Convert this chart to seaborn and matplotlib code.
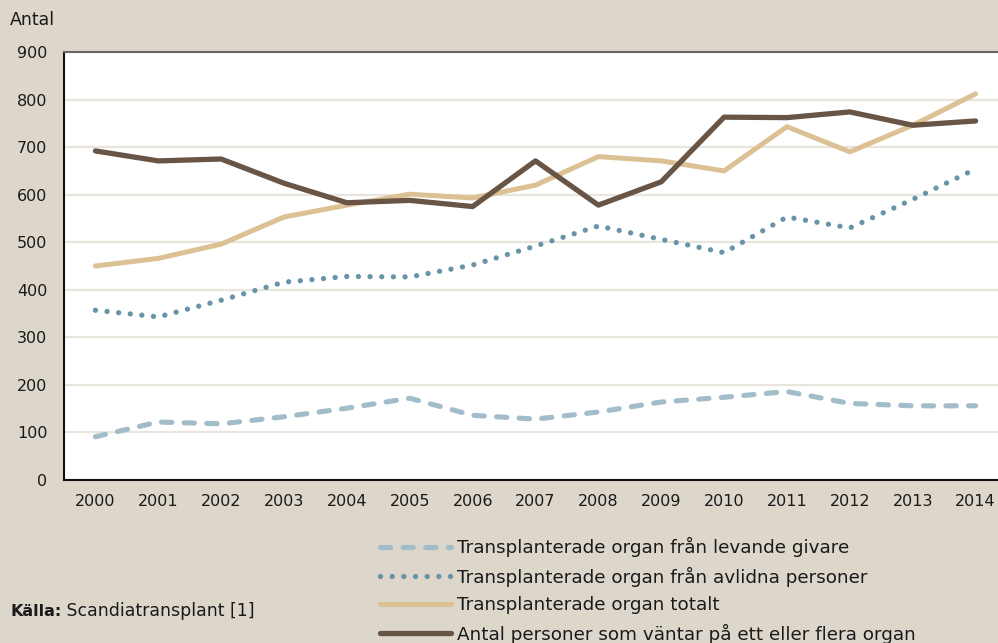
import matplotlib
matplotlib.use("Agg")
import matplotlib.pyplot as plt
import seaborn as sns
import pandas as pd
import numpy as np

years = ["2000", "2001", "2002", "2003", "2004", "2005", "2006", "2007",
         "2008", "2009", "2010", "2011", "2012", "2013", "2014"]
levande = [91, 122, 118, 133, 151, 172, 136, 128, 143, 164, 174, 186, 161, 156, 156]
avlidna = [357, 343, 378, 416, 428, 427, 452, 492, 534, 506, 478, 553, 530, 590, 654]
totalt = [450, 466, 496, 553, 578, 601, 593, 620, 680, 671, 650, 743, 690, 746, 812]
vantar = [692, 671, 675, 624, 583, 588, 575, 671, 578, 627, 763, 762, 774, 746, 755]

labels = ["Transplanterade organ från levande givare",
          "Transplanterade organ från avlidna personer",
          "Transplanterade organ totalt",
          "Antal personer som väntar på ett eller flera organ"]
colors = ["#a2bdc9", "#6894a8", "#dcc194", "#685546"]
yticks = [0, 100, 200, 300, 400, 500, 600, 700, 800, 900]

bg = "#ddd6cb"
sns.set_theme(style="white")
plt.rcParams["font.family"] = ["DejaVu Sans"]
plt.rcParams["text.color"] = "#1a1a1a"

fig = plt.figure(figsize=(9.98, 6.43), dpi=100, facecolor=bg)
W, H = 998, 643
x0, x1, ytop, ybot = 64, 1007, 52, 480
ax = fig.add_axes([x0 / W, 1 - ybot / H, (x1 - x0) / W, (ybot - ytop) / H])
ax.set_facecolor("white")

idx = np.arange(len(years))
series = [levande, avlidna, totalt, vantar]
df = pd.DataFrame({
    "x": np.tile(idx, 4),
    "y": np.concatenate(series),
    "serie": np.repeat(labels, len(years)),
})

sns.lineplot(data=df, x="x", y="y", hue="serie", hue_order=labels,
             palette=dict(zip(labels, colors)), ax=ax, legend=False,
             linewidth=3.6, sort=False)

lines = ax.lines[:4]
lw = [3.7, 3.8, 3.6, 3.8]
for ln, w in zip(lines, lw):
    ln.set_linewidth(w)
    ln.set_solid_capstyle("round")
    ln.set_dash_capstyle("round")
    ln.set_solid_joinstyle("round")
lines[0].set_dashes((2.0, 2.4))
lines[1].set_dashes((0.01, 2.2))
lines[2].set_zorder(3)
lines[3].set_zorder(4)

ax.set_xlim(-0.5, 14.5)
ax.set_ylim(0, 900)
ax.set_yticks(yticks)
ax.set_yticklabels([str(v) for v in yticks])
ax.set_xticks(idx)
ax.set_xticklabels(years)
ax.set_xticks(idx[:-1] + 0.5, minor=True)
ax.tick_params(axis="x", which="major", length=0, pad=10, labelsize=11.5,
               labelcolor="#1a1a1a")
ax.tick_params(axis="x", which="minor", length=6, width=1.2, direction="in",
               color="#333333")
ax.tick_params(axis="y", length=0, pad=12, labelsize=11.5, labelcolor="#1a1a1a")
ax.set_xlabel("")
ax.set_ylabel("")
ax.grid(False)
for v in yticks[1:-1]:
    ax.axhline(v, color="#e9e4dd", linewidth=1.6, zorder=0)

ax.spines["left"].set_color("#111111")
ax.spines["left"].set_linewidth(1.5)
ax.spines["bottom"].set_color("#111111")
ax.spines["bottom"].set_linewidth(1.5)
ax.spines["top"].set_color("#666666")
ax.spines["top"].set_linewidth(1.5)
ax.spines["right"].set_visible(False)

fig.text(10 / W, 1 - 20 / H, "Antal", fontsize=12.5, va="center", ha="left")

k = fig.text(10 / W, 1 - 611 / H, "Källa:", fontsize=11.5, va="center",
             ha="left", fontweight="semibold")
ax.annotate(" Scandiatransplant [1]", xy=(1, 0.5), xycoords=k, va="center",
            ha="left", fontsize=12.5, annotation_clip=False)

leg = fig.legend(lines, labels, loc="upper left",
                 bbox_to_anchor=(380 / W, 1 - 537 / H),
                 frameon=False, fontsize=13.2, handlelength=3.85,
                 handletextpad=0.35, labelspacing=0.52, borderaxespad=0,
                 borderpad=0)

fig.savefig("out.png", dpi=100, facecolor=bg)
